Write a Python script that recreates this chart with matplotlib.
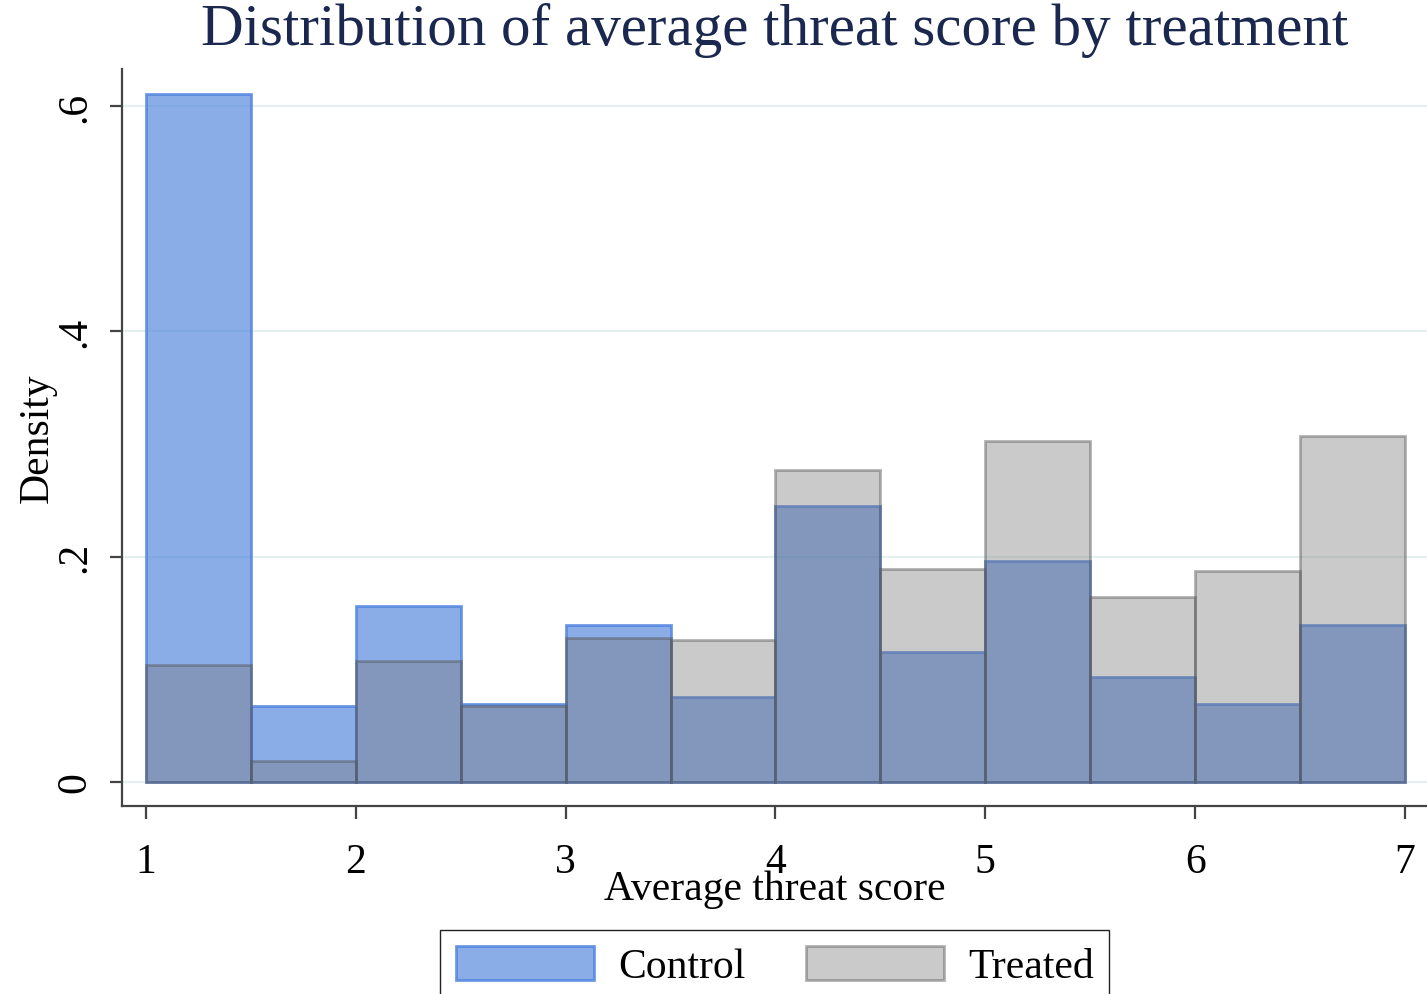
"""Histogram of average threat score, control vs treated."""

import matplotlib.pyplot as plt
import numpy as np

# bin edges (width 0.5 over the 1-7 scale) and densities per group
bin_edges = [1.0, 1.5, 2.0, 2.5, 3.0, 3.5, 4.0, 4.5, 5.0, 5.5, 6.0, 6.5, 7.0]
control_density = [0.611, 0.067, 0.156, 0.069, 0.139, 0.075,
                   0.245, 0.115, 0.196, 0.093, 0.069, 0.139]
treated_density = [0.104, 0.019, 0.107, 0.067, 0.128, 0.126,
                   0.277, 0.189, 0.303, 0.164, 0.187, 0.307]

x_ticks = [1, 2, 3, 4, 5, 6, 7]
y_ticks = [0, 0.2, 0.4, 0.6]
y_tick_labels = ["0", ".2", ".4", ".6"]

plt.rcParams["font.family"] = ["Liberation Serif", "DejaVu Serif"]

fig = plt.figure(figsize=(14.27, 9.95), dpi=100)
ax = fig.add_axes([0.0855, 0.189, 0.9145, 0.7407])

edges = np.array(bin_edges)
lefts = edges[:-1]
widths = np.diff(edges)

ctrl = ax.bar(lefts, control_density, width=widths, align="edge",
              facecolor=(0.345, 0.545, 0.87, 0.70),
              edgecolor=(0.30, 0.50, 0.88, 0.80),
              linewidth=2.0, label="Control", zorder=2)
trt = ax.bar(lefts, treated_density, width=widths, align="edge",
             facecolor=(0.46, 0.46, 0.46, 0.38),
             edgecolor=(0.33, 0.33, 0.33, 0.45),
             linewidth=2.0, label="Treated", zorder=3)

ax.set_xlim(0.886, 7.105)
ax.set_ylim(-0.0213, 0.633)

ax.set_xticks(x_ticks)
ax.set_yticks(y_ticks)
ax.set_yticklabels(y_tick_labels, rotation=90, va="center")
ax.tick_params(axis="both", length=9, width=1.6, color="#444444",
               labelsize=30)
ax.tick_params(axis="x", pad=17)
ax.tick_params(axis="y", pad=11)

ax.grid(axis="y", color="#e6eff0", linewidth=1.6, zorder=0)
ax.set_axisbelow(True)

for side in ("top", "right"):
    ax.spines[side].set_visible(False)
for side in ("left", "bottom"):
    ax.spines[side].set_color("#444444")
    ax.spines[side].set_linewidth(1.6)

ax.set_xlabel("Average threat score", fontsize=30, labelpad=-8)
ax.set_ylabel("Density", fontsize=30, labelpad=-1)

fig.suptitle("Distribution of average threat score by treatment",
             fontsize=42.5, color="#1a2850", x=0.543, y=0.997, va="top")

fig.legend(handles=[ctrl, trt], labels=["Control", "Treated"], ncol=2,
           loc="upper center", bbox_to_anchor=(0.543, 0.064),
           borderaxespad=0,
           fontsize=30, frameon=True, fancybox=False, edgecolor="#222222",
           framealpha=1, handlelength=3.3, handleheight=0.86,
           handletextpad=0.58, columnspacing=1.46, borderpad=0.38)

fig.savefig("out.png", dpi=100)
